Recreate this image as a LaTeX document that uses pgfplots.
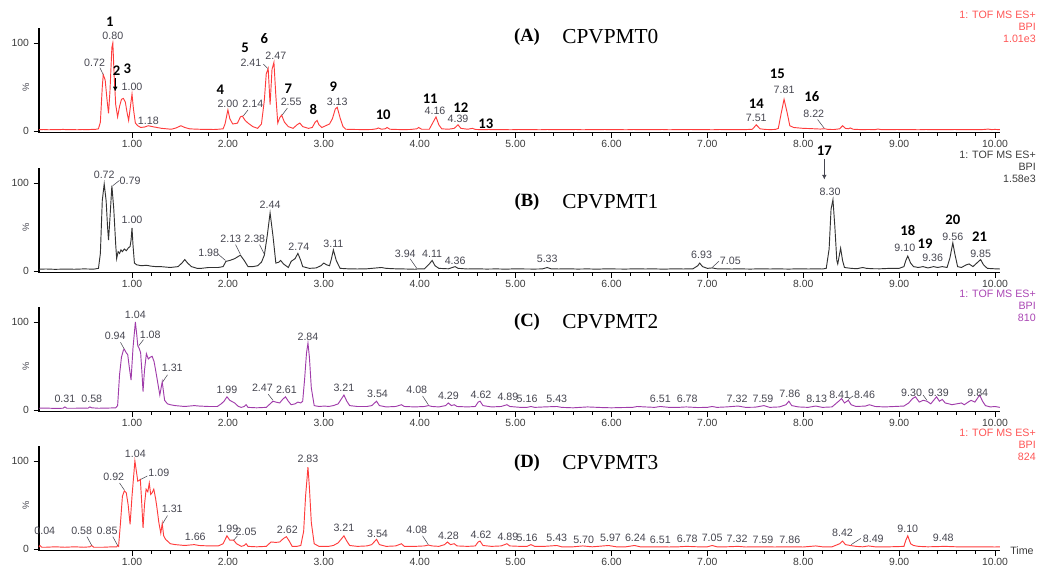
\documentclass[border=0pt]{standalone}
\usepackage{fontspec}
\setmainfont{Liberation Serif}
\newfontfamily\arial{Liberation Sans}
\newfontfamily\calib{Carlito}
\usepackage{pgfplots}
\pgfplotsset{compat=1.18}
\usetikzlibrary{arrows.meta}
\definecolor{tA}{RGB}{255,60,60}
\definecolor{tB}{RGB}{50,50,50}
\definecolor{tC}{RGB}{160,60,170}
\definecolor{lblA}{RGB}{255,85,85}
\definecolor{lblB}{RGB}{60,60,60}
\definecolor{lblC}{RGB}{170,70,180}
\definecolor{pk}{RGB}{70,70,80}
\definecolor{tk}{RGB}{60,60,60}
\pgfplotsset{chrom/.style={
  scale only axis, width=720.6pt, height=78.54pt,
  xmin=0.03, xmax=10.05, ymin=-2, ymax=117,
  axis x line*=bottom, axis y line*=left,
  axis line style={-},
  x axis line style={line width=0.9pt, black},
  y axis line style={line width=1.4pt, black},
  xtick={1,...,10}, minor x tick num=4,
  ytick={0,100},
  tick align=outside, major tick length=4pt, minor tick length=2.2pt,
  tick style={black, line width=0.7pt},
  /pgf/number format/assume math mode=true,
  xticklabel style={/pgf/number format/fixed, /pgf/number format/fixed zerofill, /pgf/number format/precision=2, inner sep=1.5pt},
  tick label style={font=\arial\fontsize{7.8}{8}\selectfont, text=tk},
  clip=false, anchor=south west,
}}
\tikzset{
pl/.style={font=\arial\fontsize{8}{9}\selectfont, text=pk, inner sep=0.5pt},
bn/.style={font=\calib\bfseries\fontsize{11}{12}\selectfont, text=black, inner sep=0.5pt},
ld/.style={draw=pk, line width=0.4pt},
}
\begin{document}
\begin{tikzpicture}
\path[use as bounding box] (0pt,0pt) rectangle (779.25pt,-423.75pt);
% ---------------- Panel A
\begin{axis}[chrom, at={(29.25pt,-99.57pt)}]
\addplot[tA, line width=0.7pt] coordinates {(0.03,1.5)(0.08,1.7)(0.13,1.4)(0.18,1.6)(0.23,1.5)(0.28,1.8)(0.33,1.5)(0.38,1.6)(0.43,1.4)(0.48,1.7)(0.53,1.5)(0.58,1.8)(0.62,1.9)(0.65,2.5)(0.67,10)(0.69,50)(0.70,64)(0.72,58)(0.74,35)(0.755,20)(0.77,45)(0.79,95)(0.80,100)(0.815,60)(0.83,30)(0.85,16)(0.87,28)(0.89,36)(0.91,37)(0.93,33)(0.95,20)(0.965,12)(0.98,25)(1.00,42)(1.015,25)(1.035,9)(1.06,6)(1.09,4)(1.13,4.5)(1.17,6)(1.21,5)(1.26,4)(1.31,3)(1.36,2.5)(1.41,2)(1.46,3.5)(1.51,6)(1.55,4)(1.60,2.5)(1.65,2.2)(1.70,2)(1.75,1.8)(1.80,1.9)(1.85,1.7)(1.90,2)(1.95,2.5)(1.97,8)(2.00,24)(2.02,14)(2.05,8)(2.08,8.5)(2.10,9)(2.13,16)(2.15,17)(2.18,12)(2.21,9)(2.26,5)(2.31,3)(2.35,8)(2.38,35)(2.40,65)(2.42,71)(2.44,30)(2.46,70)(2.48,78)(2.50,40)(2.52,9)(2.54,15)(2.56,18)(2.59,10)(2.63,5)(2.68,3)(2.72,7)(2.75,9)(2.78,5)(2.84,3)(2.88,4)(2.91,10)(2.93,12)(2.95,7)(2.98,4)(3.02,6)(3.06,8)(3.09,14)(3.12,25)(3.14,27)(3.17,15)(3.20,5)(3.23,2)(3.30,1.8)(3.40,1.6)(3.50,1.7)(3.55,2.5)(3.57,3.5)(3.60,2)(3.64,2.5)(3.66,4)(3.69,2)(3.80,1.6)(3.90,1.7)(3.97,2.5)(3.99,4)(4.02,2)(4.10,2)(4.14,10)(4.17,16)(4.20,7)(4.23,2.5)(4.30,2)(4.36,3)(4.40,7)(4.43,3)(4.50,2)(4.55,3)(4.58,1.8)(4.65,1.5)(4.72,1.7)(4.80,1.5)(4.88,1.6)(4.95,1.4)(5.03,1.7)(5.10,1.5)(5.18,1.6)(5.25,1.4)(5.33,1.7)(5.40,1.5)(5.48,1.6)(5.55,1.5)(5.63,1.7)(5.70,1.4)(5.78,1.6)(5.85,1.5)(5.93,1.7)(6.00,1.5)(6.08,1.6)(6.15,1.4)(6.23,1.7)(6.30,1.5)(6.38,1.6)(6.45,1.5)(6.53,1.7)(6.60,1.4)(6.68,1.6)(6.75,1.5)(6.83,1.7)(6.90,1.5)(6.98,1.6)(7.05,1.4)(7.13,1.7)(7.20,1.5)(7.28,1.6)(7.35,1.5)(7.42,1.7)(7.47,2)(7.51,7)(7.55,2.5)(7.60,1.8)(7.66,1.6)(7.71,1.8)(7.74,3)(7.77,20)(7.80,36)(7.83,22)(7.86,6)(7.90,4)(7.95,3.5)(8.00,3)(8.06,2.8)(8.12,2.5)(8.18,2.2)(8.22,2.6)(8.26,1.8)(8.32,1.7)(8.38,2.5)(8.41,6)(8.44,3)(8.47,2.5)(8.49,3.5)(8.52,2)(8.60,1.6)(8.68,1.7)(8.75,1.6)(8.78,2.3)(8.81,1.6)(8.90,1.5)(8.98,1.7)(9.05,1.5)(9.13,1.6)(9.20,1.4)(9.28,1.7)(9.35,1.5)(9.43,1.6)(9.50,1.5)(9.58,1.7)(9.65,1.5)(9.73,1.6)(9.80,1.5)(9.88,1.7)(9.93,2.2)(9.96,1.6)(10.00,1.8)(10.05,1.5)};
\node[bn] at (axis cs:0.77,124) {1};
\node[bn] at (axis cs:0.84,68) {2};
\draw[black, line width=0.5pt, -{Latex[length=3.5pt,width=3.5pt]}] (axis cs:0.825,60) -- (axis cs:0.825,45);
\node[bn] at (axis cs:0.95,71) {3};
\node[bn] at (axis cs:1.92,47) {4};
\node[bn] at (axis cs:2.18,94) {5};
\node[bn] at (axis cs:2.38,105) {6};
\node[bn] at (axis cs:2.63,48) {7};
\node[bn] at (axis cs:2.89,25) {8};
\node[bn] at (axis cs:3.10,50) {9};
\node[bn] at (axis cs:3.62,18) {10};
\node[bn] at (axis cs:4.11,37) {11};
\node[bn] at (axis cs:4.43,26) {12};
\node[bn] at (axis cs:4.69,8) {13};
\node[bn] at (axis cs:7.51,31) {14};
\node[bn] at (axis cs:7.73,65) {15};
\node[bn] at (axis cs:8.09,39) {16};
\node[pl] at (axis cs:0.80,108) {0.80};
\node[pl] at (axis cs:0.61,78) {0.72};
\draw[ld] (axis cs:0.665,72) -- (axis cs:0.70,64);
\node[pl] at (axis cs:1.00,50) {1.00};
\node[pl] at (axis cs:1.17,12) {1.18};
\node[pl] at (axis cs:2.00,31) {2.00};
\node[pl] at (axis cs:2.26,31) {2.14};
\draw[ld] (axis cs:2.21,24) -- (axis cs:2.16,17);
\node[pl] at (axis cs:2.24,77) {2.41};
\draw[ld] (axis cs:2.37,76) -- (axis cs:2.415,71);
\node[pl] at (axis cs:2.50,85) {2.47};
\node[pl] at (axis cs:2.66,33) {2.55};
\draw[ld] (axis cs:2.62,26) -- (axis cs:2.565,18);
\node[pl] at (axis cs:3.14,33) {3.13};
\node[pl] at (axis cs:4.16,23) {4.16};
\node[pl] at (axis cs:4.40,14) {4.39};
\node[pl] at (axis cs:7.51,15) {7.51};
\node[pl] at (axis cs:7.80,47) {7.81};
\node[pl] at (axis cs:8.11,20) {8.22};
\draw[ld] (axis cs:8.15,13) -- (axis cs:8.22,3);
\end{axis}
% ---------------- Panel B
\begin{axis}[chrom, at={(29.25pt,-204.57pt)}]
\addplot[tB, line width=0.7pt] coordinates {(0.03,2)(0.1,2.3)(0.2,1.9)(0.3,2.2)(0.4,2)(0.5,2.4)(0.6,2.1)(0.65,3)(0.67,20)(0.69,80)(0.71,99)(0.73,80)(0.745,50)(0.755,35)(0.77,60)(0.79,97)(0.81,70)(0.83,30)(0.84,14)(0.855,22)(0.87,20)(0.885,24)(0.90,22)(0.92,25)(0.94,23)(0.96,26)(0.98,28)(0.99,35)(1.00,49)(1.01,30)(1.025,9)(1.05,7)(1.10,6)(1.15,6.5)(1.20,5.5)(1.25,5)(1.30,5)(1.35,4.5)(1.40,4)(1.48,5)(1.52,9)(1.55,13)(1.58,9)(1.62,5)(1.68,3)(1.72,3)(1.80,4)(1.90,4)(1.95,5)(1.98,11)(2.02,12)(2.07,14)(2.13,18)(2.17,12)(2.21,5)(2.26,5)(2.31,6)(2.35,10)(2.38,18)(2.41,40)(2.44,66)(2.47,40)(2.50,9)(2.53,10)(2.55,12)(2.58,8)(2.63,4)(2.66,11)(2.70,14)(2.73,20)(2.76,12)(2.78,5)(2.85,3)(2.92,3.5)(2.97,6)(3.00,9)(3.03,7)(3.06,6)(3.08,14)(3.10,24)(3.13,12)(3.17,3)(3.25,2.5)(3.35,2.3)(3.45,2.5)(3.55,3.5)(3.60,4)(3.65,3)(3.75,2.5)(3.85,2.3)(3.95,2)(3.99,2.5)(4.05,2.5)(4.10,8)(4.13,12)(4.16,6)(4.20,3)(4.30,2.5)(4.37,5)(4.40,3)(4.50,2.3)(4.60,2.5)(4.70,2.2)(4.80,2.4)(4.90,2.1)(5.00,2.5)(5.10,2.3)(5.20,2.2)(5.28,2.4)(5.33,4)(5.37,2.5)(5.45,2.3)(5.55,2.5)(5.65,2.2)(5.75,2.4)(5.85,2.1)(5.95,2.5)(6.05,2.3)(6.15,2.2)(6.25,2.5)(6.35,2.3)(6.45,2.4)(6.55,2.1)(6.65,2.5)(6.75,2.3)(6.85,2.5)(6.90,6)(6.92,9)(6.95,5)(7.00,3)(7.05,3.5)(7.10,2.5)(7.15,2.5)(7.25,2.3)(7.35,2.4)(7.45,2.2)(7.55,2.5)(7.65,2.3)(7.75,2.4)(7.85,2.2)(7.95,2.5)(8.05,2.3)(8.15,2.4)(8.20,2.3)(8.24,3)(8.27,25)(8.29,70)(8.31,81)(8.33,50)(8.35,12)(8.36,8)(8.38,20)(8.39,26)(8.41,12)(8.43,4)(8.50,3)(8.56,2.6)(8.62,4)(8.66,3)(8.73,2.6)(8.80,2.5)(8.90,3)(9.00,3)(9.05,5)(9.07,12)(9.09,17)(9.12,9)(9.15,5)(9.20,4)(9.25,5)(9.30,3.5)(9.36,5)(9.40,4)(9.45,5)(9.50,4)(9.53,15)(9.56,32)(9.58,20)(9.61,5)(9.65,4)(9.70,7)(9.73,8)(9.77,5)(9.82,10)(9.85,13)(9.88,7)(9.92,3)(10.00,2.5)(10.05,2.3)};
\node[pl] at (axis cs:0.71,109) {0.72};
\node[pl] at (axis cs:0.98,103) {0.79};
\draw[ld] (axis cs:0.87,103) -- (axis cs:0.80,97);
\node[pl] at (axis cs:1.00,58) {1.00};
\node[pl] at (axis cs:1.80,21) {1.98};
\draw[ld] (axis cs:1.90,19) -- (axis cs:1.975,12);
\node[pl] at (axis cs:2.03,36) {2.13};
\draw[ld] (axis cs:2.08,30) -- (axis cs:2.13,19);
\node[pl] at (axis cs:2.28,37) {2.38};
\draw[ld] (axis cs:2.33,30) -- (axis cs:2.38,19);
\node[pl] at (axis cs:2.44,75) {2.44};
\node[pl] at (axis cs:2.74,28) {2.74};
\node[pl] at (axis cs:3.10,31) {3.11};
\node[pl] at (axis cs:3.85,20) {3.94};
\draw[ld] (axis cs:3.90,14) -- (axis cs:3.97,3);
\node[pl] at (axis cs:4.13,20) {4.11};
\node[pl] at (axis cs:4.37,12) {4.36};
\node[pl] at (axis cs:5.33,14) {5.33};
\node[pl] at (axis cs:6.94,18) {6.93};
\node[pl] at (axis cs:7.24,12) {7.05};
\draw[ld] (axis cs:7.12,11) -- (axis cs:7.05,4);
\node[pl] at (axis cs:8.28,90) {8.30};
\node[pl] at (axis cs:9.06,26) {9.10};
\node[pl] at (axis cs:9.35,15) {9.36};
\node[pl] at (axis cs:9.56,39) {9.56};
\node[pl] at (axis cs:9.85,19) {9.85};
\node[bn] at (axis cs:8.22,137) {17};
\draw[pk, line width=0.5pt, -{Latex[length=3.5pt,width=3.5pt]}] (axis cs:8.22,127) -- (axis cs:8.22,104);
\node[bn] at (axis cs:9.09,46) {18};
\node[bn] at (axis cs:9.27,31) {19};
\node[bn] at (axis cs:9.56,58) {20};
\node[bn] at (axis cs:9.84,39) {21};
\end{axis}
% ---------------- Panel C
\begin{axis}[chrom, at={(29.25pt,-308.82pt)}]
\addplot[tC, line width=0.7pt] coordinates {(0.03,2)(0.1,2.2)(0.2,1.8)(0.28,2)(0.30,3.5)(0.32,2)(0.4,2)(0.5,2.2)(0.54,2)(0.56,3.5)(0.58,2.5)(0.65,2)(0.75,2.2)(0.83,2.5)(0.85,5)(0.87,40)(0.89,60)(0.91,68)(0.92,69)(0.94,65)(0.955,63)(0.97,50)(0.99,34)(1.01,70)(1.035,100)(1.05,85)(1.06,73)(1.075,70)(1.09,65)(1.105,40)(1.115,21)(1.13,45)(1.15,64)(1.17,58)(1.19,60)(1.21,61)(1.23,55)(1.245,46)(1.27,30)(1.29,17)(1.315,32)(1.34,11)(1.37,7)(1.40,6)(1.45,5)(1.5,4.5)(1.55,4)(1.6,4.5)(1.65,5)(1.7,4.5)(1.8,4)(1.89,4)(1.93,7)(1.96,10)(1.99,15)(2.02,11)(2.07,8)(2.11,4)(2.14,3)(2.17,4)(2.19,6)(2.21,3)(2.3,2.5)(2.4,3)(2.44,7)(2.47,10)(2.50,9)(2.54,8)(2.57,12)(2.60,15)(2.63,10)(2.66,6)(2.70,7)(2.73,9)(2.76,8)(2.78,10)(2.80,35)(2.82,65)(2.835,76)(2.85,60)(2.87,25)(2.90,5)(2.95,4)(3.01,4.5)(3.05,4)(3.10,5)(3.15,7)(3.18,12)(3.21,17)(3.24,10)(3.27,5)(3.35,4)(3.45,4)(3.50,5)(3.55,10)(3.58,5)(3.65,3.5)(3.75,4)(3.81,6)(3.84,4)(3.95,3.5)(4.05,4)(4.09,5)(4.13,4)(4.2,3.5)(4.27,5)(4.30,8)(4.33,5)(4.36,6)(4.39,4)(4.5,3.5)(4.58,4)(4.61,9)(4.63,10)(4.66,5)(4.75,3.5)(4.85,4)(4.91,6)(4.94,4)(5.05,3)(5.12,3)(5.16,4)(5.2,3)(5.3,3.5)(5.43,4)(5.48,3)(5.6,2.5)(5.75,3.5)(5.9,2.8)(6.0,2.5)(6.1,2.8)(6.22,3)(6.27,4)(6.35,3.5)(6.45,3)(6.51,4)(6.6,3)(6.7,3)(6.78,3.5)(6.9,2.8)(7.0,3)(7.05,4)(7.1,3)(7.2,3.5)(7.32,4.5)(7.4,3)(7.5,3.2)(7.59,5)(7.65,3)(7.75,3.5)(7.82,6)(7.85,10)(7.88,5)(7.95,3.5)(8.05,3)(8.13,4.5)(8.2,3)(8.3,3.5)(8.37,10)(8.40,13)(8.43,8)(8.47,11)(8.50,6)(8.55,4)(8.65,4.5)(8.69,6)(8.75,4)(8.85,3.5)(8.95,4)(9.05,4.5)(9.10,8)(9.14,13)(9.17,15)(9.21,9)(9.25,11)(9.29,10)(9.33,7)(9.36,11)(9.39,15)(9.42,10)(9.45,12)(9.48,8)(9.52,7)(9.55,6)(9.60,7)(9.65,8)(9.68,6)(9.72,9)(9.75,11)(9.79,9)(9.84,17)(9.87,10)(9.90,5)(9.95,3.5)(10.0,4)(10.05,3)};
\node[pl] at (axis cs:0.30,13) {0.31};
\node[pl] at (axis cs:0.58,13) {0.58};
\node[pl] at (axis cs:0.825,84) {0.94};
\draw[ld] (axis cs:0.88,77) -- (axis cs:0.92,69);
\node[pl] at (axis cs:1.035,108) {1.04};
\node[pl] at (axis cs:1.19,85) {1.08};
\draw[ld] (axis cs:1.12,80) -- (axis cs:1.07,73);
\node[pl] at (axis cs:1.42,48) {1.31};
\draw[ld] (axis cs:1.37,40) -- (axis cs:1.32,32);
\node[pl] at (axis cs:1.99,23) {1.99};
\node[pl] at (axis cs:2.36,25) {2.47};
\draw[ld] (axis cs:2.42,18) -- (axis cs:2.47,11);
\node[pl] at (axis cs:2.61,23) {2.61};
\node[pl] at (axis cs:2.835,83) {2.84};
\node[pl] at (axis cs:3.21,25) {3.21};
\node[pl] at (axis cs:3.56,18) {3.54};
\node[pl] at (axis cs:3.97,23) {4.08};
\draw[ld] (axis cs:4.03,16) -- (axis cs:4.09,6);
\node[pl] at (axis cs:4.30,16) {4.29};
\node[pl] at (axis cs:4.64,17) {4.62};
\node[pl] at (axis cs:4.92,15) {4.89};
\node[pl] at (axis cs:5.12,13) {5.16};
\node[pl] at (axis cs:5.43,13) {5.43};
\node[pl] at (axis cs:6.51,13) {6.51};
\node[pl] at (axis cs:6.79,13) {6.78};
\node[pl] at (axis cs:7.31,13) {7.32};
\node[pl] at (axis cs:7.58,13) {7.59};
\node[pl] at (axis cs:7.86,18) {7.86};
\node[pl] at (axis cs:8.14,13) {8.13};
\node[pl] at (axis cs:8.38,17) {8.41};
\node[pl] at (axis cs:8.64,17) {8.46};
\draw[ld] (axis cs:8.52,16) -- (axis cs:8.47,12);
\node[pl] at (axis cs:9.13,20) {9.30};
\draw[ld] (axis cs:9.25,17) -- (axis cs:9.29,11);
\node[pl] at (axis cs:9.41,20) {9.39};
\node[pl] at (axis cs:9.82,20) {9.84};
\end{axis}
% ---------------- Panel D
\begin{axis}[chrom, at={(29.25pt,-413.07pt)}]
\addplot[tA, line width=0.7pt] coordinates {(0.03,2)(0.04,4)(0.06,2)(0.1,2)(0.2,2.5)(0.3,2)(0.4,2.5)(0.5,2)(0.56,2.5)(0.58,4)(0.60,2)(0.7,2)(0.8,2.5)(0.84,2.5)(0.85,4)(0.86,3)(0.88,30)(0.90,60)(0.92,66)(0.94,64)(0.96,50)(0.98,28)(1.00,60)(1.03,100)(1.05,85)(1.06,77)(1.075,78)(1.087,79)(1.10,55)(1.115,24)(1.13,50)(1.147,68)(1.165,65)(1.18,75)(1.195,62)(1.21,64)(1.227,68)(1.245,58)(1.26,47)(1.28,30)(1.30,18)(1.315,29)(1.33,15)(1.35,11)(1.40,6)(1.45,5)(1.5,4.5)(1.55,4)(1.6,4.5)(1.65,5)(1.7,4)(1.8,3.5)(1.9,3.5)(1.95,6)(1.99,15)(2.02,10)(2.06,10)(2.09,6)(2.14,3)(2.17,4)(2.19,6)(2.21,3)(2.30,2.5)(2.40,3)(2.45,8)(2.50,7.5)(2.54,8)(2.58,12)(2.61,14)(2.64,9)(2.67,3)(2.72,3)(2.76,4)(2.79,20)(2.81,60)(2.835,93)(2.85,70)(2.87,30)(2.90,6)(2.95,3)(3.05,3)(3.10,4)(3.15,7)(3.18,11)(3.21,15)(3.24,9)(3.27,4)(3.35,3)(3.45,3.5)(3.50,5)(3.55,11)(3.58,5)(3.65,3)(3.75,3.5)(3.81,6)(3.84,3)(3.95,3)(4.05,3.5)(4.09,4.5)(4.13,3.5)(4.2,3)(4.26,5)(4.29,8)(4.32,5)(4.36,6)(4.39,3.5)(4.5,3)(4.58,3.5)(4.61,8)(4.63,9)(4.66,4)(4.75,3)(4.85,3.5)(4.91,6)(4.94,3.5)(5.05,3)(5.12,3)(5.16,5)(5.2,3)(5.3,3)(5.43,4)(5.48,2.5)(5.6,2.5)(5.70,3.5)(5.8,2.5)(5.97,4)(6.05,2.5)(6.15,2.5)(6.24,4)(6.3,2.5)(6.4,2.5)(6.51,2.5)(6.6,2.3)(6.7,2.5)(6.78,3)(6.9,2.5)(7.0,2.5)(7.05,4)(7.1,2.5)(7.2,2.5)(7.32,3)(7.4,2.3)(7.5,2.5)(7.59,2.5)(7.7,2.3)(7.86,2.5)(8.0,2.3)(8.13,3.5)(8.2,2.5)(8.3,2.5)(8.38,6)(8.41,9)(8.44,5)(8.49,4)(8.55,3)(8.62,2.5)(8.68,3.5)(8.75,2.5)(8.9,2.5)(9.0,2.8)(9.05,3)(9.07,10)(9.09,15)(9.12,6)(9.15,4)(9.20,3)(9.3,2.5)(9.48,3)(9.6,2.5)(9.7,2.5)(9.85,2.5)(10.0,2.3)(10.05,2.5)};
\node[pl] at (axis cs:0.09,21) {0.04};
\node[pl] at (axis cs:0.475,21) {0.58};
\draw[ld] (axis cs:0.53,14) -- (axis cs:0.58,4);
\node[pl] at (axis cs:0.74,21) {0.85};
\draw[ld] (axis cs:0.80,14) -- (axis cs:0.85,4);
\node[pl] at (axis cs:0.81,82) {0.92};
\draw[ld] (axis cs:0.87,75) -- (axis cs:0.92,67);
\node[pl] at (axis cs:1.035,108) {1.04};
\node[pl] at (axis cs:1.28,87) {1.09};
\draw[ld] (axis cs:1.16,83) -- (axis cs:1.09,79);
\node[pl] at (axis cs:1.42,46) {1.31};
\draw[ld] (axis cs:1.37,38) -- (axis cs:1.32,29);
\node[pl] at (axis cs:1.66,14) {1.66};
\node[pl] at (axis cs:2.00,23) {1.99};
\node[pl] at (axis cs:2.19,19) {2.05};
\draw[ld] (axis cs:2.10,15) -- (axis cs:2.06,10);
\node[pl] at (axis cs:2.62,22) {2.62};
\node[pl] at (axis cs:2.835,102) {2.83};
\node[pl] at (axis cs:3.21,24) {3.21};
\node[pl] at (axis cs:3.56,17) {3.54};
\node[pl] at (axis cs:3.97,22) {4.08};
\draw[ld] (axis cs:4.03,15) -- (axis cs:4.09,5);
\node[pl] at (axis cs:4.30,15) {4.28};
\node[pl] at (axis cs:4.64,16) {4.62};
\node[pl] at (axis cs:4.92,14) {4.89};
\node[pl] at (axis cs:5.12,13) {5.16};
\node[pl] at (axis cs:5.43,13) {5.43};
\node[pl] at (axis cs:5.71,11) {5.70};
\node[pl] at (axis cs:5.99,13) {5.97};
\node[pl] at (axis cs:6.25,13) {6.24};
\node[pl] at (axis cs:6.51,11) {6.51};
\node[pl] at (axis cs:6.79,12) {6.78};
\node[pl] at (axis cs:7.05,13) {7.05};
\node[pl] at (axis cs:7.31,12) {7.32};
\node[pl] at (axis cs:7.58,11) {7.59};
\node[pl] at (axis cs:7.86,11) {7.86};
\node[pl] at (axis cs:8.41,18) {8.42};
\node[pl] at (axis cs:8.73,12) {8.49};
\draw[ld] (axis cs:8.60,12) -- (axis cs:8.50,5);
\node[pl] at (axis cs:9.09,23) {9.10};
\node[pl] at (axis cs:9.46,13) {9.48};
\end{axis}
% ---------------- outside texts
\begin{scope}[x=0.75pt,y=-0.75pt]
\foreach \yz/\lbl/\nm/\col/\ty in {131/A/CPVPMT0/lblA/37, 271/B/CPVPMT1/lblB/202, 410/C/CPVPMT2/lblC/322, 549/D/CPVPMT3/lblA/463}{
  \node[font=\bfseries\fontsize{14}{16}\selectfont] at (527,\ty) {(\lbl)};
  \node[font=\fontsize{16}{18}\selectfont, anchor=west, inner sep=0pt] at (562,\ty) {\nm};
  \node[font=\arial\fontsize{8}{9}\selectfont, text=\col, anchor=east, inner sep=0pt] at (1036,\yz-116) {1: TOF MS ES+};
  \node[font=\arial\fontsize{8}{9}\selectfont, text=\col, anchor=east, inner sep=0pt] at (1036,\yz-104) {BPI};
  \node[font=\arial\fontsize{7}{8}\selectfont, text=pk, rotate=90] at (26,\yz-44) {\%};
}
\node[font=\arial\fontsize{8}{9}\selectfont, text=lblA, anchor=east, inner sep=0pt] at (1036,39) {1.01e3};
\node[font=\arial\fontsize{8}{9}\selectfont, text=lblB, anchor=east, inner sep=0pt] at (1036,179) {1.58e3};
\node[font=\arial\fontsize{8}{9}\selectfont, text=lblC, anchor=east, inner sep=0pt] at (1036,318) {810};
\node[font=\arial\fontsize{8}{9}\selectfont, text=lblA, anchor=east, inner sep=0pt] at (1036,457) {824};
\node[font=\arial\fontsize{8}{9}\selectfont, text=tk, anchor=west, inner sep=0pt] at (1010,551) {Time};
\end{scope}
\end{tikzpicture}
\end{document}
